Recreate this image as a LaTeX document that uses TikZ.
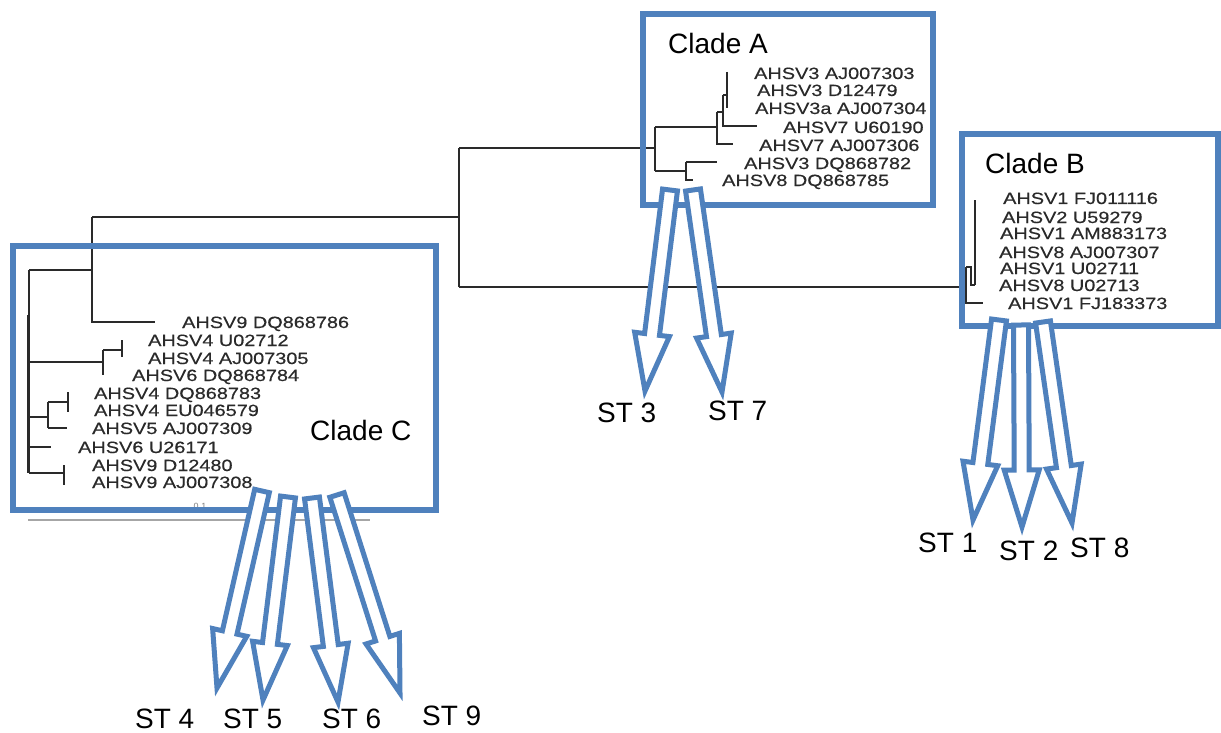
\documentclass[tikz,border=0pt]{standalone}
\usepackage{fontspec}
\setmainfont{Liberation Sans}
\newfontfamily\treefont[FakeStretch=1.22,FakeBold=0.4]{Liberation Sans}
\usetikzlibrary{calc}
\definecolor{boxblue}{HTML}{4F81BD}
\definecolor{treegray}{HTML}{2A2A2A}
\tikzset{
  tree/.style={draw=treegray,line width=1.5pt},
  cladebox/.style={draw=boxblue,line width=6pt},
  blockarrow/.style={draw=boxblue,fill=white,line width=5pt,line join=miter},
  leaf/.style={anchor=base west,inner sep=0pt,text=treegray,font=\treefont\fontsize{16.3}{18}\selectfont},
  cladelabel/.style={anchor=base west,inner sep=0pt,font=\fontsize{28}{32}\selectfont},
  stlabel/.style={anchor=base west,inner sep=0pt,font=\fontsize{28}{32}\selectfont},
}
\newcommand\blkarrow[2]{%
  \path ($(#2)!57pt!(#1)$) coordinate (hb);
  \draw[blockarrow] ($(#1)!7.5pt!90:(#2)$) -- ($(hb)!7.5pt!90:(#2)$) -- ($(hb)!17.5pt!90:(#2)$) -- (#2)
     -- ($(hb)!17.5pt!-90:(#2)$) -- ($(hb)!7.5pt!-90:(#2)$) -- ($(#1)!7.5pt!-90:(#2)$) -- cycle;}
\begin{document}
\begin{tikzpicture}[x=1pt,y=-1pt]
\fill[white] (0,0) rectangle (1221,733);
\useasboundingbox (0,0) rectangle (1221,733);

% main tree
\draw[tree] (92,217) -- (459,217);
\draw[tree] (459,148) -- (459,287);
\draw[tree] (459,148) -- (655,148);
\draw[tree] (459,287) -- (966,287);

% clade C subtree
\draw[tree] (92,217) -- (92,322) -- (155,322);
\draw[tree] (29,270) -- (92,270);
\draw[tree] (29,270) -- (29,473);
\draw[draw=treegray,line width=2.5pt] (28.5,315) -- (28.5,473);
\draw[tree] (29,362) -- (103,362);
\draw[tree] (103,350) -- (103,375);
\draw[tree] (103,350) -- (122,350);
\draw[tree] (122,340) -- (122,357);
\draw[tree] (29,417) -- (48,417);
\draw[tree] (48,402) -- (48,428);
\draw[tree] (48,402) -- (68,402);
\draw[tree] (68,392) -- (68,412);
\draw[tree] (48,428) -- (67,428);
\draw[tree] (29,447) -- (51,447);
\draw[tree] (29,473) -- (64,473);
\draw[tree] (64,465) -- (64,485);

% clade A subtree
\draw[tree] (655,127) -- (655,171);
\draw[tree] (655,127) -- (717,127);
\draw[tree] (717,112) -- (717,144) -- (733,144);
\draw[tree] (717,112) -- (723,112);
\draw[tree] (723,95) -- (723,126) -- (757,126);
\draw[tree] (723,95) -- (727,95);
\draw[tree] (727,72) -- (727,108);
\draw[tree] (655,171) -- (686,171);
\draw[tree] (686,162) -- (686,180) -- (693,180);
\draw[tree] (686,162) -- (717,162);

% clade B subtree
\draw[tree] (966,267) -- (966,303) -- (983,303);
\draw[tree] (966,267) -- (971,267) -- (971,285) -- (975,285);
\draw[tree] (975,200) -- (975,285);

% scale bar
\draw[draw=gray!70,line width=2pt] (28,520) -- (370,520);
\node[inner sep=0pt,text=gray,font=\fontsize{9}{10}\selectfont] (scale) at (200,506) {0.1};

% leaf labels clade A
\node[leaf] (a1) at (754,79) {AHSV3 AJ007303};
\node[leaf] (a2) at (757,96) {AHSV3 D12479};
\node[leaf] (a3) at (755,114) {AHSV3a AJ007304};
\node[leaf] (a4) at (783,133) {AHSV7 U60190};
\node[leaf] (a5) at (759,151) {AHSV7 AJ007306};
\node[leaf] (a6) at (744,169) {AHSV3 DQ868782};
\node[leaf] (a7) at (722,186) {AHSV8 DQ868785};

% leaf labels clade B
\node[leaf] (b1) at (1003,204) {AHSV1 FJ011116};
\node[leaf] (b2) at (1002,223) {AHSV2 U59279};
\node[leaf] (b3) at (1000,239) {AHSV1 AM883173};
\node[leaf] (b4) at (999,258) {AHSV8 AJ007307};
\node[leaf] (b5) at (1000,274) {AHSV1 U02711};
\node[leaf] (b6) at (999,291) {AHSV8 U02713};
\node[leaf] (b7) at (1008,309) {AHSV1 FJ183373};

% leaf labels clade C
\node[leaf] (c1) at (182,328) {AHSV9 DQ868786};
\node[leaf] (c2) at (148,346) {AHSV4 U02712};
\node[leaf] (c3) at (148,364) {AHSV4 AJ007305};
\node[leaf] (c4) at (132,381) {AHSV6 DQ868784};
\node[leaf] (c5) at (94,399) {AHSV4 DQ868783};
\node[leaf] (c6) at (94,416) {AHSV4 EU046579};
\node[leaf] (c7) at (92,434) {AHSV5 AJ007309};
\node[leaf] (c8) at (78,453) {AHSV6 U26171};
\node[leaf] (c9) at (92,471) {AHSV9 D12480};
\node[leaf] (c10) at (92,488) {AHSV9 AJ007308};

% clade boxes
\draw[cladebox] (643,14) rectangle (933,205);
\draw[cladebox] (962,134) rectangle (1218,326);
\draw[cladebox] (13,246) rectangle (436,510);
\node[cladelabel] (cladeA) at (668,54) {Clade A};
\node[cladelabel] (cladeB) at (985,174) {Clade B};
\node[cladelabel] (cladeC) at (310,440) {Clade C};

% ST labels
\node[stlabel] (st3) at (597,422) {ST 3};
\node[stlabel] (st7) at (708,420) {ST 7};
\node[stlabel] (st1) at (918,552) {ST 1};
\node[stlabel] (st2) at (999,560) {ST 2};
\node[stlabel] (st8) at (1070,557) {ST 8};
\node[stlabel] (st4) at (135,728) {ST 4};
\node[stlabel] (st5) at (223,728) {ST 5};
\node[stlabel] (st6) at (322,728) {ST 6};
\node[stlabel] (st9) at (422,725) {ST 9};

% arrow coordinates
\coordinate (t3) at (670,190); \coordinate (p3) at (645,391);
\coordinate (t7) at (693,190); \coordinate (p7) at (722,392);
\coordinate (t1) at (999,320); \coordinate (p1) at (973,520);
\coordinate (t2) at (1021,325); \coordinate (p2) at (1022,527);
\coordinate (t8) at (1043,322); \coordinate (p8) at (1072,523);
\coordinate (t4) at (262,491); \coordinate (p4) at (217,688);
\coordinate (t5) at (288,497); \coordinate (p5) at (263,700);
\coordinate (t6) at (312,498); \coordinate (p6) at (338,702);
\coordinate (t9) at (337,495); \coordinate (p9) at (400,693);

\blkarrow{t3}{p3}
\blkarrow{t7}{p7}
\blkarrow{t1}{p1}
\blkarrow{t2}{p2}
\blkarrow{t8}{p8}
\blkarrow{t4}{p4}
\blkarrow{t5}{p5}
\blkarrow{t6}{p6}
\blkarrow{t9}{p9}
\end{tikzpicture}
\end{document}
